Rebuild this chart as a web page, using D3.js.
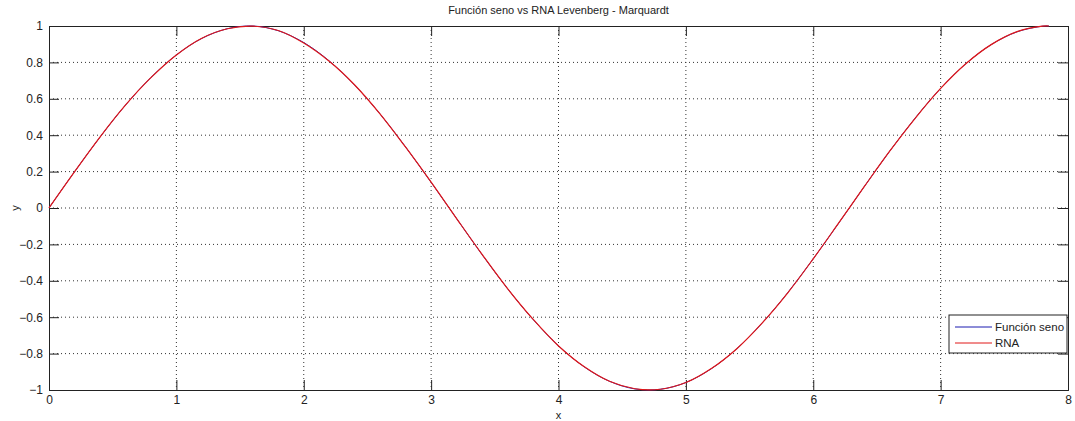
<!DOCTYPE html>
<html>
<head>
<meta charset="utf-8">
<script src="https://cdn.jsdelivr.net/npm/d3@7"></script>
<style>
  body { margin: 0; background: #fff; }
  svg text { font-family: "Liberation Sans", Arial, sans-serif; font-size: 11px; fill: #222; }
</style>
</head>
<body>
<div id="chart"></div>
<script>
// values
var xs = [0,0.2,0.4,0.6,0.8,1.0,1.2,1.4,1.6,1.8,2.0,2.2,2.4,2.6,2.8,3.0,3.2,3.4,3.6,3.8,
          4.0,4.2,4.4,4.6,4.8,5.0,5.2,5.4,5.6,5.8,6.0,6.2,6.4,6.6,6.8,7.0,7.2,7.4,7.6,7.8,7.85];
var senoY = [0,0.199,0.389,0.565,0.717,0.841,0.932,0.985,1.000,0.974,0.909,0.808,0.675,0.516,0.335,0.141,
             -0.058,-0.256,-0.443,-0.612,-0.757,-0.872,-0.952,-0.994,-0.996,-0.959,-0.883,-0.773,-0.631,-0.465,
             -0.279,-0.083,0.117,0.312,0.494,0.657,0.794,0.899,0.968,0.999,1.000];
var rnaY  = [0.001,0.199,0.390,0.565,0.716,0.841,0.933,0.985,0.999,0.975,0.906,0.806,0.676,0.516,0.334,0.142,
             -0.058,-0.255,-0.443,-0.611,-0.758,-0.871,-0.952,-0.993,-0.996,-0.959,-0.882,-0.773,-0.631,-0.466,
             -0.279,-0.082,0.117,0.312,0.493,0.657,0.794,0.899,0.969,0.999,1.000];
var xTicks = [0,1,2,3,4,5,6,7,8];
var yTicks = [-1,-0.8,-0.6,-0.4,-0.2,0,0.2,0.4,0.6,0.8,1];
var legendNames = ["Función seno", "RNA"];
var colors = ["#1a1ab0", "#e01818"];

var W = 1075, H = 421;
var margin = {top: 26, right: 7, bottom: 31, left: 49};
var width = W - margin.left - margin.right;
var height = H - margin.top - margin.bottom;

var svg = d3.select("#chart").append("svg")
  .attr("width", W).attr("height", H);
var g = svg.append("g")
  .attr("transform", "translate(" + margin.left + "," + margin.top + ")");

var x = d3.scaleLinear().domain([0, 8]).range([0, width]);
var y = d3.scaleLinear().domain([-1, 1]).range([height, 0]);

// dotted grid
g.append("g").selectAll("line").data(xTicks.slice(1, -1)).enter().append("line")
  .attr("x1", d => x(d)).attr("x2", d => x(d)).attr("y1", 0).attr("y2", height)
  .attr("stroke", "#333").attr("stroke-width", 1).attr("stroke-dasharray", "1,3");
g.append("g").selectAll("line").data(yTicks.slice(1, -1)).enter().append("line")
  .attr("y1", d => y(d)).attr("y2", d => y(d)).attr("x1", 0).attr("x2", width)
  .attr("stroke", "#333").attr("stroke-width", 1).attr("stroke-dasharray", "1,3");

// axes with inward ticks (box style)
var tl = 10;
var fmt = d => d3.format("")(+d.toFixed(1));
g.append("g").attr("transform", "translate(0," + height + ")")
  .call(d3.axisBottom(x).tickValues(xTicks).tickSize(-tl).tickPadding(5).tickFormat(fmt));
g.append("g")
  .call(d3.axisTop(x).tickValues(xTicks).tickSize(-tl).tickFormat(""));
g.append("g")
  .call(d3.axisLeft(y).tickValues(yTicks).tickSize(-tl).tickPadding(6).tickFormat(fmt));
g.append("g").attr("transform", "translate(" + width + ",0)")
  .call(d3.axisRight(y).tickValues(yTicks).tickSize(-tl).tickFormat(""));
g.selectAll(".domain").attr("stroke", "#222");
g.selectAll(".tick line").attr("stroke", "#222");
g.selectAll(".tick text").style("font-size", "12px").attr("fill", "#222");

// curves (RNA drawn last, over the sine)
var line = d3.line().curve(d3.curveCatmullRom)
  .x(d => x(d[0])).y(d => y(d[1]));
var series = [senoY, rnaY];
series.forEach(function(vals, i) {
  g.append("path")
    .datum(xs.map((v, j) => [v, vals[j]]))
    .attr("fill", "none").attr("stroke", colors[i]).attr("stroke-width", i ? 1.2 : 1)
    .attr("d", line);
});

// title and labels
svg.append("text").attr("x", margin.left + width / 2).attr("y", 14)
  .attr("text-anchor", "middle").text("Función seno vs RNA Levenberg - Marquardt");
svg.append("text").attr("x", margin.left + width / 2).attr("y", 419)
  .attr("text-anchor", "middle").text("x");
svg.append("text").attr("transform", "translate(19," + (margin.top + height / 2) + ") rotate(-90)")
  .attr("text-anchor", "middle").text("y");

// legend
var lg = svg.append("g").attr("transform", "translate(949,315)");
lg.append("rect").attr("width", 118).attr("height", 38)
  .attr("fill", "#fff").attr("stroke", "#222");
legendNames.forEach(function(name, i) {
  var yy = 12 + i * 16;
  lg.append("line").attr("x1", 6).attr("x2", 43).attr("y1", yy).attr("y2", yy)
    .attr("stroke", colors[i]).attr("stroke-width", 1);
  lg.append("text").attr("x", 46).attr("y", yy + 4).style("font-size", "11.5px").text(name);
});
</script>
</body>
</html>
